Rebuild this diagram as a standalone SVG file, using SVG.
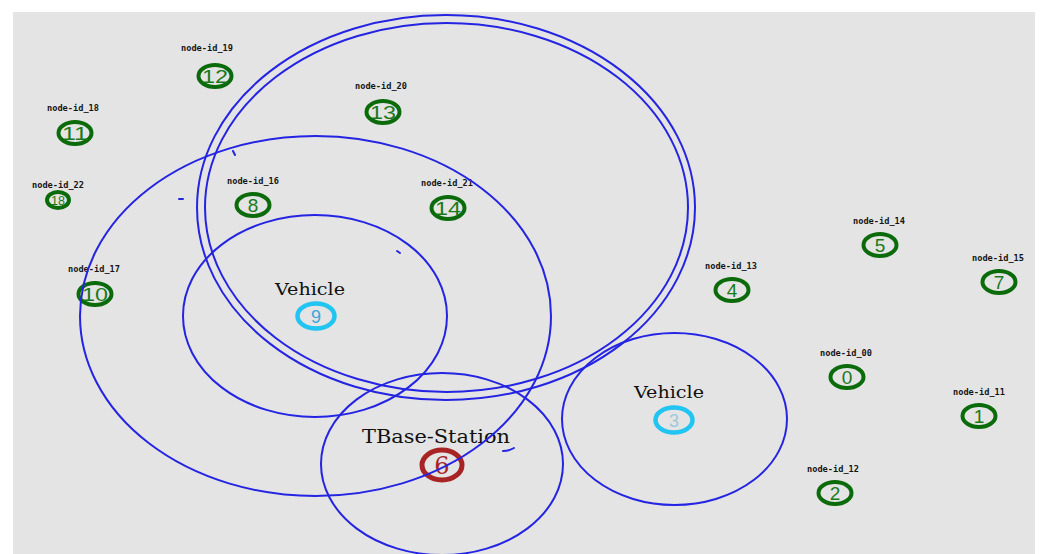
<svg xmlns="http://www.w3.org/2000/svg" width="1040" height="554" viewBox="0 0 1040 554">
<style>
.bg{fill:#e4e4e4}
.nd{fill:none;stroke:#0b6b0b;stroke-width:4}
.nt{fill:#1a7a1a;font-family:"Liberation Sans",Arial,sans-serif;font-size:19px;text-anchor:middle}
.lb{fill:#151515;font-family:"DejaVu Sans Mono",monospace;font-size:9px;font-weight:bold;text-anchor:middle}
.vh{fill:none;stroke:#22c4f2;stroke-width:4.5}
.vt{fill:#3aa8d8;font-family:"Liberation Sans",Arial,sans-serif;font-size:18px;text-anchor:middle}
.vl{fill:#111;font-family:"DejaVu Serif",serif;font-size:16px;text-anchor:middle}
.bs{fill:none;stroke:#a82424;stroke-width:5}
.bt{fill:#a82424;font-family:"DejaVu Serif",serif;font-size:24px;text-anchor:middle}
.rg{fill:none;stroke:#2424e2;stroke-width:2}
.mk{fill:none;stroke:#2424e2;stroke-width:2;stroke-linecap:round}
</style>
<rect class="bg" x="13" y="12" width="1022" height="542"/>
<g id="node-id_19"><text class="lb" x="207" y="51" textLength="52" lengthAdjust="spacingAndGlyphs">node-id_19</text><ellipse class="nd" cx="215" cy="76" rx="16.5" ry="11"/><text class="nt" x="215" y="83" textLength="26" lengthAdjust="spacingAndGlyphs">12</text></g>
<g id="node-id_18"><text class="lb" x="73" y="111" textLength="52" lengthAdjust="spacingAndGlyphs">node-id_18</text><ellipse class="nd" cx="75" cy="133" rx="16.5" ry="11"/><text class="nt" x="75" y="140" textLength="26" lengthAdjust="spacingAndGlyphs">11</text></g>
<g id="node-id_22"><text class="lb" x="58" y="188" textLength="52" lengthAdjust="spacingAndGlyphs">node-id_22</text><ellipse class="nd" cx="58" cy="200" rx="11" ry="8"/><text class="nt" x="58" y="204.5" style="font-size:12px" textLength="14" lengthAdjust="spacingAndGlyphs">18</text></g>
<g id="node-id_16"><text class="lb" x="253" y="184" textLength="52" lengthAdjust="spacingAndGlyphs">node-id_16</text><ellipse class="nd" cx="253" cy="205" rx="16.5" ry="11"/><text class="nt" x="253" y="212">8</text></g>
<g id="node-id_20"><text class="lb" x="381" y="89" textLength="52" lengthAdjust="spacingAndGlyphs">node-id_20</text><ellipse class="nd" cx="383" cy="112" rx="16.5" ry="11"/><text class="nt" x="383" y="119" textLength="26" lengthAdjust="spacingAndGlyphs">13</text></g>
<g id="node-id_21"><text class="lb" x="447" y="186" textLength="52" lengthAdjust="spacingAndGlyphs">node-id_21</text><ellipse class="nd" cx="448" cy="208" rx="16.5" ry="11"/><text class="nt" x="448" y="215" textLength="26" lengthAdjust="spacingAndGlyphs">14</text></g>
<g id="node-id_17"><text class="lb" x="94" y="272" textLength="52" lengthAdjust="spacingAndGlyphs">node-id_17</text><ellipse class="nd" cx="95" cy="294" rx="16.5" ry="11"/><text class="nt" x="95" y="301" textLength="26" lengthAdjust="spacingAndGlyphs">10</text></g>
<g id="node-id_14"><text class="lb" x="879" y="224" textLength="52" lengthAdjust="spacingAndGlyphs">node-id_14</text><ellipse class="nd" cx="880" cy="245" rx="16.5" ry="11"/><text class="nt" x="880" y="252">5</text></g>
<g id="node-id_15"><text class="lb" x="998" y="261" textLength="52" lengthAdjust="spacingAndGlyphs">node-id_15</text><ellipse class="nd" cx="999" cy="282" rx="16.5" ry="11"/><text class="nt" x="999" y="289">7</text></g>
<g id="node-id_13"><text class="lb" x="731" y="269" textLength="52" lengthAdjust="spacingAndGlyphs">node-id_13</text><ellipse class="nd" cx="732" cy="290" rx="16.5" ry="11"/><text class="nt" x="732" y="297">4</text></g>
<g id="node-id_00"><text class="lb" x="846" y="356" textLength="52" lengthAdjust="spacingAndGlyphs">node-id_00</text><ellipse class="nd" cx="847" cy="377" rx="16.5" ry="11"/><text class="nt" x="847" y="384">0</text></g>
<g id="node-id_11"><text class="lb" x="979" y="395" textLength="52" lengthAdjust="spacingAndGlyphs">node-id_11</text><ellipse class="nd" cx="979" cy="416" rx="16.5" ry="11"/><text class="nt" x="979" y="423">1</text></g>
<g id="node-id_12"><text class="lb" x="833" y="472" textLength="52" lengthAdjust="spacingAndGlyphs">node-id_12</text><ellipse class="nd" cx="835" cy="493" rx="16.5" ry="11"/><text class="nt" x="835" y="500">2</text></g>
<g id="vehicle-9"><text class="vl" x="310" y="295" textLength="70" lengthAdjust="spacingAndGlyphs">Vehicle</text><ellipse class="vh" cx="316" cy="316" rx="18.5" ry="12.5"/><text class="vt" x="316" y="323">9</text></g>
<g id="vehicle-3"><text class="vl" x="669" y="398" textLength="70" lengthAdjust="spacingAndGlyphs">Vehicle</text><ellipse class="vh" cx="674" cy="420" rx="18.5" ry="12.5"/><text class="vt" x="674" y="427" style="fill:#9ec8dc">3</text></g>
<g id="base-station"><text class="vl" x="436" y="443" style="font-size:18px" textLength="148" lengthAdjust="spacingAndGlyphs">TBase-Station</text><ellipse class="bs" cx="442" cy="465" rx="20" ry="15"/><text class="bt" x="442" y="474">6</text></g>
<g id="connectors">
<ellipse class="rg" cx="446" cy="207.5" rx="249" ry="192.5"/>
<ellipse class="rg" cx="446.5" cy="207.5" rx="241.5" ry="184.5"/>
<ellipse class="rg" cx="315.5" cy="316" rx="235.5" ry="180"/>
<ellipse class="rg" cx="315" cy="316" rx="132" ry="101"/>
<ellipse class="rg" cx="442" cy="464" rx="121" ry="91"/>
<ellipse class="rg" cx="674.5" cy="419" rx="112.5" ry="86"/>
<path class="mk" d="M233 151 L235 155"/>
<path class="mk" d="M179 199 L183 199"/>
<path class="mk" d="M397 251 L400 253"/>
<path class="mk" d="M503 451 Q509 451 514 448"/>
</g>
</svg>
